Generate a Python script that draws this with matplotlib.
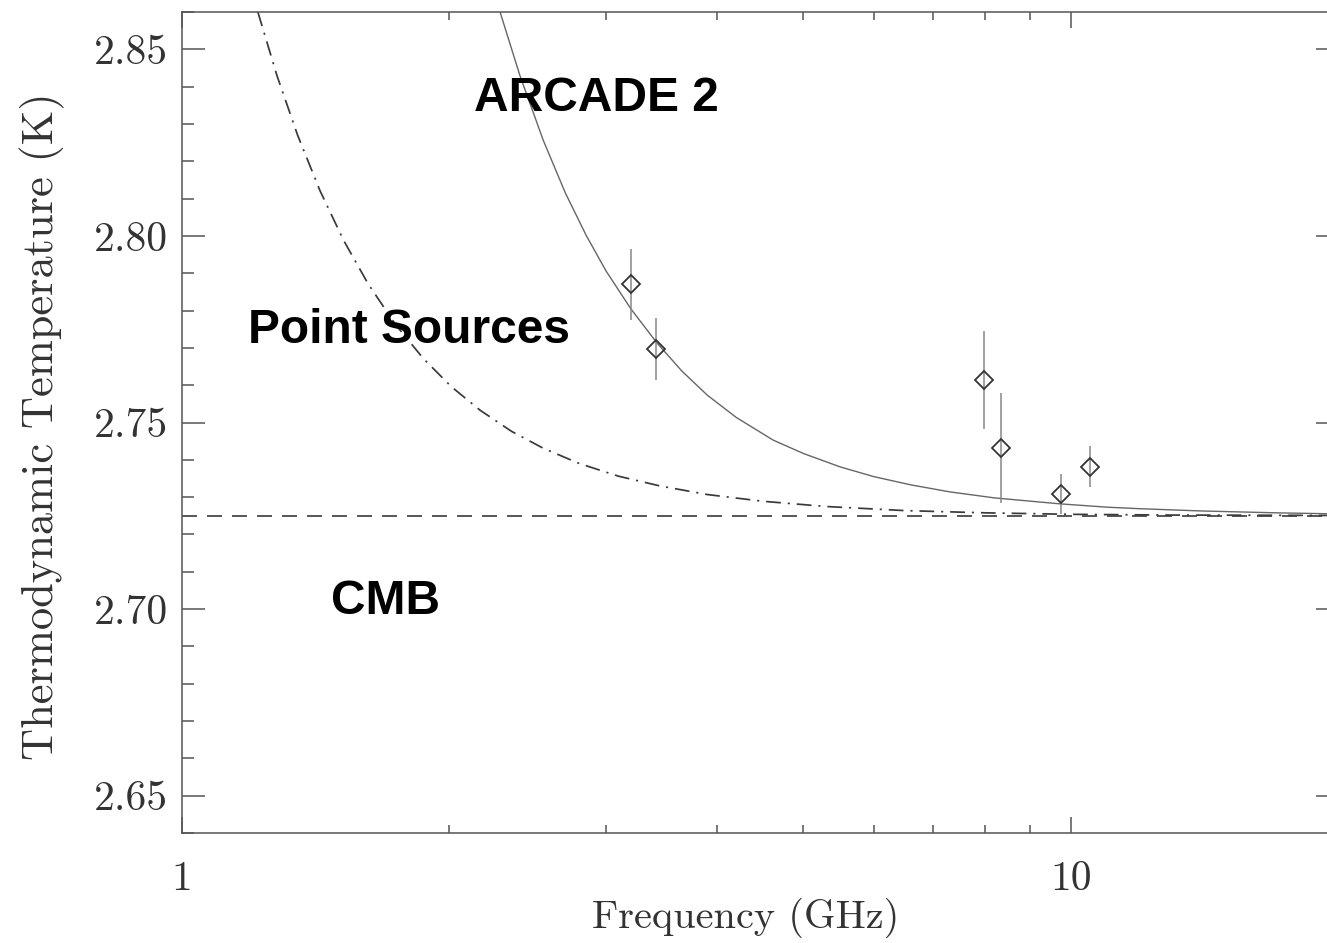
import numpy as np
import matplotlib
matplotlib.use("Agg")
import matplotlib.pyplot as plt
from matplotlib.ticker import FixedLocator, NullFormatter, FormatStrFormatter

plt.rcParams["axes.formatter.use_mathtext"] = True

# ARCADE 2 measurements (GHz, K, 1-sigma)
freq = [3.20, 3.415, 7.97, 8.34, 9.74, 10.50]
temp = [2.7870, 2.7698, 2.7614, 2.7431, 2.7309, 2.7382]
err = [0.0096, 0.0083, 0.0132, 0.0148, 0.0053, 0.0054]

# ARCADE 2 fit curve
fit_freq = [2.28, 2.40, 2.55, 2.70, 2.85, 3.00, 3.20, 3.423, 3.65, 3.90, 4.20,
            4.622, 5.0, 5.5, 6.0, 6.6, 7.31, 8.2, 9.72, 11.0, 11.96, 14.0, 17.0, 20.0]
fit_temp = [2.8600, 2.8430, 2.8256, 2.8115, 2.8001, 2.7906, 2.7804, 2.7713, 2.7638,
            2.7573, 2.7514, 2.7453, 2.7417, 2.7381, 2.7355, 2.7333, 2.7314, 2.7298,
            2.7282, 2.7273, 2.7269, 2.7263, 2.7258, 2.7255]

# point-source contribution curve
ps_freq = [1.218, 1.28, 1.35, 1.43, 1.52, 1.62, 1.74, 1.87, 2.01, 2.165, 2.35,
           2.55, 2.80, 3.10, 3.45, 3.90, 4.5, 5.3, 6.5, 8.0, 10.0, 13.0, 20.0]
ps_temp = [2.8600, 2.8429, 2.8270, 2.8122, 2.7989, 2.7872, 2.7762, 2.7671, 2.7596,
           2.7533, 2.7476, 2.7431, 2.7390, 2.7356, 2.7330, 2.7307, 2.7289, 2.7275,
           2.7264, 2.7258, 2.7254, 2.7252, 2.7251]

T_CMB = 2.725

y_major = [2.65, 2.70, 2.75, 2.80, 2.85]
y_minor = [2.64 + 0.01 * i for i in range(23)]
x_major = [1, 10]
x_minor = [2, 3, 4, 5, 6, 7, 8, 9, 20]

fig = plt.figure(figsize=(13.27, 9.43), dpi=100)
ax = fig.add_axes([0.1369, 0.1166, 0.8721, 0.8707])

ax.axhline(T_CMB, color="#3a3a3a", lw=1.2, dashes=(9, 6))
ax.plot(ps_freq, ps_temp, color="#3a3a3a", lw=1.25, dashes=(8.5, 4, 1.2, 4))
ax.plot(fit_freq, fit_temp, color="#666666", lw=1.0)
ax.errorbar(freq, temp, yerr=err, fmt="none", ecolor="#888888", elinewidth=1.1, capsize=0)
ax.plot(freq, temp, ls="none", marker="D", ms=9.5, mfc="none", mec="#333333", mew=1.3)

ax.set_xscale("log")
ax.set_xlim(1, 20)
ax.set_ylim(2.64, 2.86)

ax.xaxis.set_major_locator(FixedLocator(x_major))
ax.xaxis.set_minor_locator(FixedLocator(x_minor))
ax.xaxis.set_minor_formatter(NullFormatter())
ax.set_xticklabels(["1", "10"])
ax.yaxis.set_major_locator(FixedLocator(y_major))
ax.yaxis.set_minor_locator(FixedLocator(y_minor))
ax.yaxis.set_major_formatter(FormatStrFormatter("%.2f"))

for s in ax.spines.values():
    s.set_color("#555555")
    s.set_linewidth(1.1)

ax.tick_params(axis="both", which="both", direction="in", top=True, right=True,
               color="#555555", width=1.1, labelcolor="#333333")
ax.tick_params(axis="y", which="major", length=16.6, pad=10)
ax.tick_params(axis="y", which="minor", length=8.6)
ax.tick_params(axis="x", which="major", length=11.5, pad=20)
ax.tick_params(axis="x", which="minor", length=5.8)

for lab in ax.get_xticklabels() + ax.get_yticklabels():
    lab.set_fontfamily("cmr10")
    lab.set_fontsize(30)

ax.set_xlabel("Frequency (GHz)", family="cmr10", fontsize=29, color="#333333")
ax.set_ylabel("Thermodynamic Temperature (K)", family="cmr10", fontsize=32, color="#333333")
ax.xaxis.set_label_coords(0.4876, -0.1035)
ax.yaxis.set_label_coords(-0.1207, 0.495)
ax.xaxis.label.set_va("center")
ax.yaxis.label.set_va("center")

lab_kw = dict(family=["Liberation Sans", "DejaVu Sans"], fontweight="bold",
              fontsize=34.5, color="black", ha="center", va="baseline")
ax.text(2.927, 2.8336, "ARCADE 2", **lab_kw)
ax.text(1.801, 2.7713, "Point Sources", **lab_kw)
ax.text(1.693, 2.6988, "CMB", **lab_kw)

fig.savefig("out.png", dpi=100)
